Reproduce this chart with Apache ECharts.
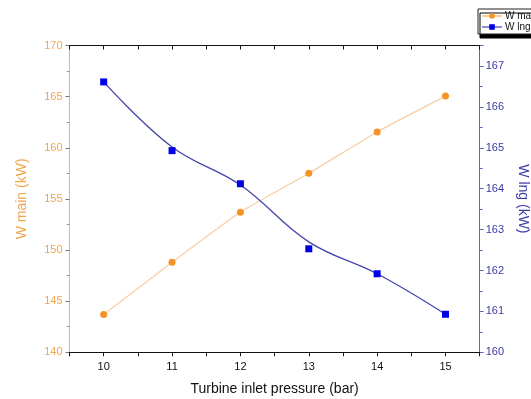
<!DOCTYPE html>
<html><head><meta charset="utf-8">
<script src="https://cdn.jsdelivr.net/npm/echarts@6/dist/echarts.min.js"></script>
<style>html,body{margin:0;padding:0;background:#fff}#c{width:531px;height:399px}</style>
</head><body><div id="c"></div>
<script>
const pressure = [10, 11, 12, 13, 14, 15];
const wMain = [143.7, 148.8, 153.7, 157.5, 161.55, 165.05];
const wLng = [166.61, 164.93, 164.12, 162.53, 161.92, 160.93];
const wLngFit = [166.61, 165.02, 164.09, 162.7, 161.92, 160.93];
const leftTicks = [140, 145, 150, 155, 160, 165, 170];
const rightTicks = [160, 161, 162, 163, 164, 165, 166, 167];

const orange = '#f39424', orangeLine = '#f6cfa2', orangeAxis = '#f5b266', orangeText = '#f2a54c';
const blue = '#0000e6', blueLine = '#4444aa', blueAxis = '#6363b8', blueText = '#3a3aa6';
const font = 'Liberation Sans, Arial, sans-serif';

const chart = echarts.init(document.getElementById('c'), null, {renderer: 'canvas'});
chart.setOption({
  animation: false,
  backgroundColor: '#fff',
  grid: {left: 69.5, right: 51.3, top: 45.5, bottom: 46.7, show: false, containLabel: false, outerBoundsMode: 'none'},
  legend: {
    left: 478, top: 9, orient: 'vertical', itemGap: 1, itemWidth: 20, itemHeight: 7,
    padding: [2, 4, 2, 3], backgroundColor: '#fff', borderColor: '#222', borderWidth: 1,
    shadowColor: '#000', shadowBlur: 0, shadowOffsetX: 2, shadowOffsetY: 4,
    textStyle: {fontFamily: font, fontSize: 10, color: '#111', padding: [0, 0, 0, -2]},
    data: [
      {name: 'W main'},
      {name: 'W lng', lineStyle: {color: blueLine, width: 1.2, opacity: 1}}
    ]
  },
  xAxis: [{
    type: 'value', min: 9.5, max: 15.5, interval: 0.5, position: 'bottom',
    name: 'Turbine inlet pressure (bar)', nameLocation: 'middle', nameGap: 30,
    nameTextStyle: {fontFamily: font, fontSize: 14, color: '#111'},
    axisLine: {show: true, lineStyle: {color: '#111', width: 1}},
    axisTick: {show: true, inside: false, length: 4, lineStyle: {color: '#111'}},
    axisLabel: {fontFamily: font, fontSize: 11, color: '#111', margin: 9,
      formatter: v => (Math.abs(v - Math.round(v)) < 1e-6 && v > 9.6 && v < 15.4) ? String(Math.round(v)) : ''},
    splitLine: {show: false}
  }, {
    type: 'value', min: 9.5, max: 15.5, interval: 0.5, position: 'top',
    axisLine: {show: true, lineStyle: {color: '#111', width: 1}},
    axisTick: {show: true, inside: true, length: 4, lineStyle: {color: '#111'}},
    axisLabel: {show: false}, splitLine: {show: false}
  }],
  yAxis: [{
    type: 'value', min: 140, max: 170, interval: 5, position: 'left',
    name: 'W main (kW)', nameLocation: 'middle', nameGap: 40, nameRotate: 90,
    nameTextStyle: {fontFamily: font, fontSize: 14, color: orangeText},
    axisLine: {show: true, lineStyle: {color: orangeAxis, width: 1}},
    axisTick: {show: true, inside: false, length: 4, lineStyle: {color: '#777'}},
    minorTick: {show: true, splitNumber: 2, length: 3, lineStyle: {color: '#999'}},
    axisLabel: {fontFamily: font, fontSize: 11, color: orangeText, margin: 7,
      formatter: v => leftTicks.includes(v) ? String(v) : ''},
    splitLine: {show: false}
  }, {
    type: 'value', min: 160, max: 167.5, interval: 1, position: 'right',
    name: 'W lng (kW)', nameLocation: 'middle', nameGap: 36, nameRotate: -90,
    nameTextStyle: {fontFamily: font, fontSize: 14, color: blueText},
    axisLine: {show: true, lineStyle: {color: blueAxis, width: 1}},
    axisTick: {show: true, inside: false, length: 4, lineStyle: {color: blueAxis}},
    minorTick: {show: true, splitNumber: 2, length: 3, lineStyle: {color: blueAxis}},
    axisLabel: {fontFamily: font, fontSize: 11, color: blueText, margin: 6,
      formatter: v => rightTicks.includes(v) ? String(v) : ''},
    splitLine: {show: false}
  }],
  series: [{
    name: 'W main', type: 'line', xAxisIndex: 0, yAxisIndex: 0,
    data: pressure.map((p, i) => [p, wMain[i]]),
    symbol: 'circle', symbolSize: 7, smooth: 0.2,
    itemStyle: {color: orange},
    lineStyle: {color: orangeLine, width: 1.2}
  }, {
    name: 'W lng fit', type: 'line', xAxisIndex: 0, yAxisIndex: 1,
    data: pressure.map((p, i) => [p, wLngFit[i]]),
    symbol: 'none', smooth: 0.4,
    lineStyle: {color: blueLine, width: 1.3}
  }, {
    name: 'W lng', type: 'line', xAxisIndex: 0, yAxisIndex: 1,
    data: pressure.map((p, i) => [p, wLng[i]]),
    symbol: 'rect', symbolSize: 7,
    itemStyle: {color: blue},
    lineStyle: {width: 0, opacity: 0}
  }]
});
</script></body></html>
